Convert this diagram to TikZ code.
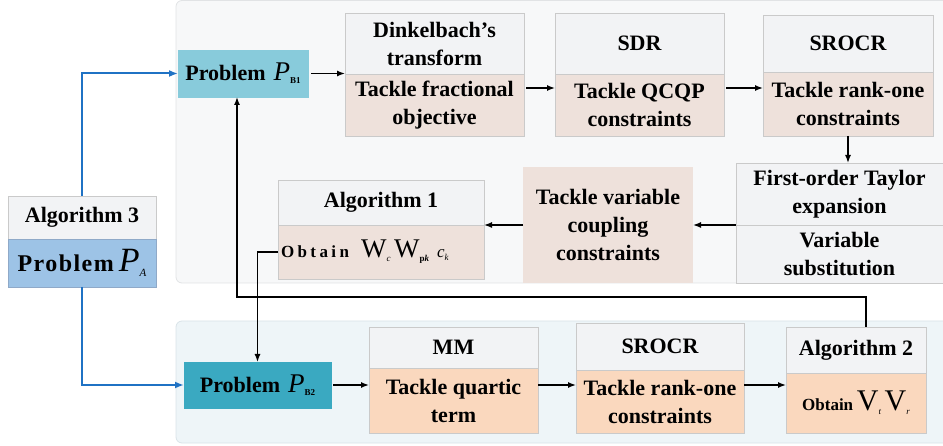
\documentclass[tikz,border=0pt]{standalone}
\usepackage{fontspec}
\setmainfont{Liberation Serif}
\usetikzlibrary{arrows.meta,calc}
\definecolor{hdrfill}{HTML}{F2F3F5}
\definecolor{boxline}{HTML}{CACACA}
\definecolor{pinkfill}{HTML}{EEE1DB}
\definecolor{peachfill}{HTML}{FAD8BE}
\definecolor{pbone}{HTML}{88CBDB}
\definecolor{pbtwo}{HTML}{3AA9C1}
\definecolor{algblue}{HTML}{9DC3E6}
\definecolor{algline}{HTML}{8FA9C8}
\definecolor{bluearr}{HTML}{1F72C4}
\definecolor{toppanel}{HTML}{F7F8F9}
\definecolor{toppanelline}{HTML}{E1E3E5}
\definecolor{botpanel}{HTML}{EEF5F8}
\definecolor{botpanelline}{HTML}{D9E3E8}
\newcommand{\Pbsub}[1]{{\mdseries\itshape\fontsize{27}{27}\selectfont P}\raisebox{-3pt}{\fontsize{9}{9}\selectfont\bfseries #1}}
\newcommand{\Wsub}[1]{{\mdseries\fontsize{27}{27}\selectfont W}\raisebox{-4pt}{\fontsize{9}{9}\selectfont\mdseries #1}}
\newcommand{\Vsub}[1]{{\mdseries\fontsize{30}{30}\selectfont V}\raisebox{-4pt}{\fontsize{9}{9}\selectfont\mdseries\itshape #1}}
\begin{document}
\begin{tikzpicture}[x=1pt,y=-1pt,
  box/.style={draw=boxline, line width=0.8pt, inner sep=2pt, outer sep=0pt, align=center,
    font=\fontsize{22}{28}\selectfont\bfseries},
  hdr/.style={box, fill=hdrfill},
  pinkbox/.style={box, fill=pinkfill},
  peachbox/.style={box, fill=peachfill},
  arr/.style={line width=1.4pt, -{Latex[length=8pt,width=6pt]}},
  barr/.style={line width=2pt, draw=bluearr, -{Latex[length=9pt,width=7pt]}}]
\useasboundingbox (0,0) rectangle (943,446);
% panels
\draw[fill=toppanel, draw=toppanelline, line width=0.8pt, rounded corners=6pt] (176,0.5) rectangle (960,283);
\draw[fill=botpanel, draw=botpanelline, line width=0.8pt, rounded corners=6pt] (176,321) rectangle (960,443);
% top row
\node[box, fill=pbone, draw=pbone, minimum width=130, minimum height=47] (pb1) at (243,73.5) {Problem\hspace{8pt}\Pbsub{B1}};
\node[hdr, minimum width=179, minimum height=61] (dkA) at (434.5,43.5) {Dinkelbach's\\transform};
\node[pinkbox, minimum width=179, minimum height=62] (dkB) at (434.5,105) {Tackle fractional\\objective};
\node[hdr, minimum width=169, minimum height=61] (sdrA) at (639.5,43.5) {SDR};
\node[pinkbox, minimum width=169, minimum height=62] (sdrB) at (639.5,105) {Tackle QCQP\\constraints};
\node[hdr, minimum width=170, minimum height=57] (srA) at (848,43.5) {SROCR};
\node[pinkbox, minimum width=170, minimum height=64] (srB) at (848,104) {Tackle rank-one\\constraints};
% middle row
\node[hdr, minimum width=207, minimum height=62] (tyA) at (839.5,194) {First-order Taylor\\expansion};
\node[hdr, minimum width=207, minimum height=58] (tyB) at (839.5,254) {Variable\\substitution};
\node[pinkbox, draw=none, minimum width=170, minimum height=116] (tvc) at (608,225) {Tackle variable\\coupling\\constraints};
\node[hdr, minimum width=206, minimum height=45] (al1A) at (381,202.5) {Algorithm 1};
\node[pinkbox, minimum width=206, minimum height=54, text width=200, align=left, inner xsep=3pt] (al1B) at (381,252)
  {{\fontsize{17}{17}\selectfont\addfontfeatures{LetterSpace=20}Obtain}\hspace{12pt}\Wsub{\itshape c}\,\Wsub{\bfseries p\itshape k}\hspace{8pt}{\mdseries\itshape\fontsize{17}{17}\selectfont c}\raisebox{-3pt}{\fontsize{9}{9}\selectfont\mdseries\itshape k}};
% algorithm 3
\node[hdr, draw=boxline, minimum width=148, minimum height=43] (al3A) at (82,217.5) {Algorithm 3};
\node[box, fill=algblue, draw=algline, minimum width=148, minimum height=48] (al3B) at (82,263)
  {{\fontsize{24}{24}\selectfont\addfontfeatures{LetterSpace=6}Problem}\hspace{5pt}{\mdseries\itshape\fontsize{34}{34}\selectfont P}\raisebox{-5pt}{\fontsize{11}{11}\selectfont\mdseries\itshape A}};
% bottom row
\node[box, fill=pbtwo, draw=pbtwo, minimum width=147, minimum height=46] (pb2) at (257.5,385) {Problem\hspace{8pt}\Pbsub{B2}};
\node[hdr, minimum width=169, minimum height=41] (mmA) at (453.5,347.5) {MM};
\node[peachbox, minimum width=169, minimum height=65] (mmB) at (453.5,400.5) {Tackle quartic\\term};
\node[hdr, minimum width=168, minimum height=47] (sr2A) at (660,346.5) {SROCR};
\node[peachbox, minimum width=168, minimum height=63] (sr2B) at (660,401.5) {Tackle rank-one\\constraints};
\node[hdr, minimum width=140, minimum height=46] (al2A) at (856,350) {Algorithm 2};
\node[peachbox, minimum width=140, minimum height=60] (al2B) at (856,403)
  {{\fontsize{17}{17}\selectfont Obtain}\,\Vsub{t}\,\Vsub{r}};
% top arrows
\draw[arr, shorten <=3pt] (pb1.east) -- (pb1.east -| dkA.west);
\draw[arr, shorten <=2pt] ([yshift=17pt]dkB.east) -- ([yshift=17pt]sdrB.west);
\draw[arr, shorten <=2pt] ([yshift=17pt]sdrB.east) -- ([yshift=16pt]srB.west);
\draw[arr] (srB.south) -- (srB.south |- tyA.north);
\draw[arr] (tyA.south west) -- (tvc.east);
\draw[arr] (tvc.west) -- (al1A.south east);
% feedback lines
\draw[arr] ([xshift=10pt]al2A.north) -- ++(0,-30) -| ([xshift=-6pt]pb1.south);
\draw[arr] (al1B.west) -| (pb2.north);
% blue lines
\draw[barr] (al3A.north) |- (pb1.west);
\draw[barr] (al3B.south) |- (pb2.west);
% bottom arrows
\draw[arr, shorten <=2pt] (pb2.east) -- (pb2.east -| mmB.west);
\draw[arr] (mmB.east |- pb2.east) -- (sr2B.west |- pb2.east);
\draw[arr] (sr2B.east |- pb2.east) -- (al2B.west |- pb2.east);
\end{tikzpicture}
\end{document}
